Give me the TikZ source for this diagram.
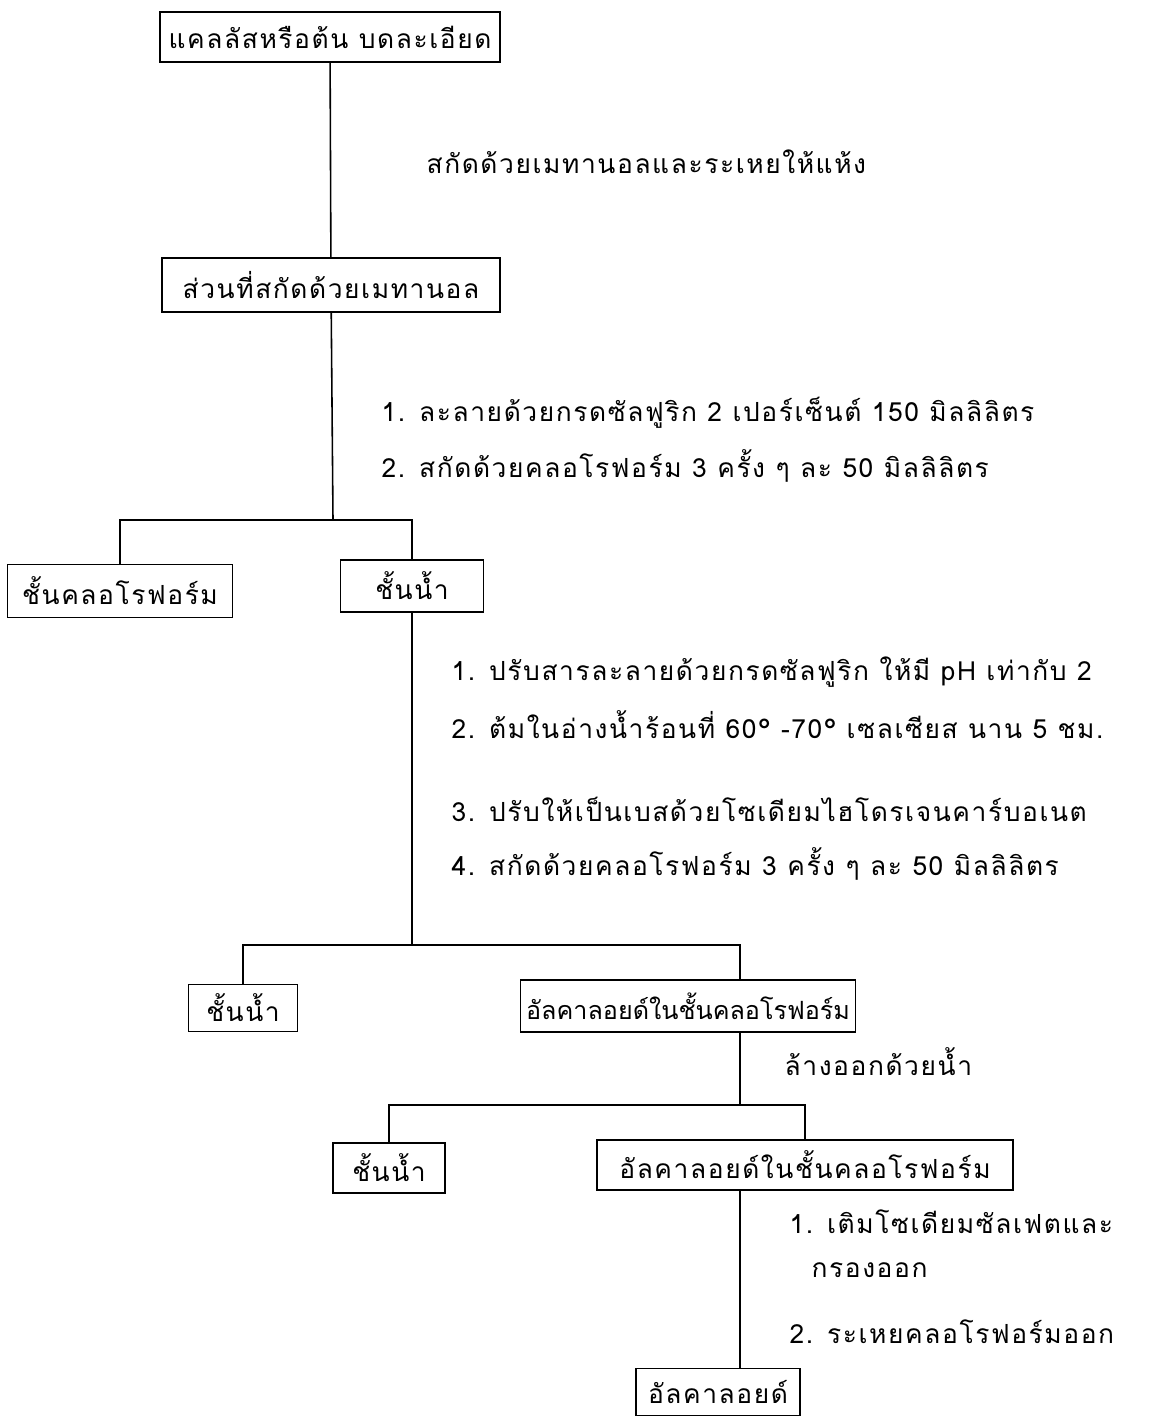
\documentclass[tikz,border=0pt]{standalone}
\usepackage{fontspec}
\newfontfamily\thaifont[Script=Thai,LetterSpace=6]{Loma}
\newfontfamily\thaitight[Script=Thai,LetterSpace=0]{Loma}
\usetikzlibrary{calc}

\begin{document}
\begin{tikzpicture}[%
    x=0.02cm, y=-0.02cm,        % Work in pixels of the scanned page
    line width=0.9pt            % Typewritten lines are fairly heavy
    ]
% -------------------------------------------------
% Box and text styles
\tikzset{
  base/.style={draw, align=center, inner sep=0pt,
    font={\thaifont\fontsize{15}{18}\selectfont}},
  box/.style={base, rectangle},
  tight/.style={font={\thaitight\fontsize{14.3}{17}\selectfont}},
  % coord node style is used for corners of the connecting lines
  coord/.style={coordinate},
  note/.style={anchor=west, font={\thaifont\fontsize{15}{18}\selectfont}},
  link/.style={draw, black}
}
\useasboundingbox (0,0) rectangle (1158,1421);
% -------------------------------------------------
% The boxes, top to bottom
\node [box, minimum width=6.8cm, minimum height=1cm] (b1) at (330,37)
  {แคลลัสหรือต้น บดละเอียด};
\node [box, minimum width=6.76cm, minimum height=1.08cm] (b2) at (331,285)
  {ส่วนที่สกัดด้วยเมทานอล};
\node [box, minimum width=4.5cm, minimum height=1.06cm] (b3) at (120,591)
  {ชั้นคลอโรฟอร์ม};
\node [box, minimum width=2.86cm, minimum height=1.04cm] (b4) at (412,586)
  {ชั้นน้ำ};
\node [box, minimum width=2.18cm, minimum height=0.94cm] (b5) at (243,1008)
  {ชั้นน้ำ};
\node [box, tight, minimum width=6.7cm, minimum height=1.04cm] (b6) at (688,1006)
  {อัลคาลอยด์ในชั้นคลอโรฟอร์ม};
\node [box, minimum width=2.24cm, minimum height=1cm] (b7) at (389,1168)
  {ชั้นน้ำ};
\node [box, minimum width=8.32cm, minimum height=1cm] (b8) at (805,1165)
  {อัลคาลอยด์ในชั้นคลอโรฟอร์ม};
\node [box, minimum width=3.28cm, minimum height=0.94cm] (b9) at (718,1392)
  {อัลคาลอยด์};

% -------------------------------------------------
% The steps written beside the lines
\node [note] (s0) at (420,162) {สกัดด้วยเมทานอลและระเหยให้แห้ง};
\node [note] (s1) at (375,413) {1. ละลายด้วยกรดซัลฟูริก 2 เปอร์เซ็นต์ 150 มิลลิลิตร};
\node [note] (s2) at (375,466) {2. สกัดด้วยคลอโรฟอร์ม 3 ครั้ง ๆ ละ 50 มิลลิลิตร};
\node [note] (s3) at (445,672) {1. ปรับสารละลายด้วยกรดซัลฟูริก ให้มี pH เท่ากับ 2};
\node [note] (s4) at (445,725) {2. ต้มในอ่างน้ำร้อนที่ 60° -70° เซลเซียส นาน 5 ชม.};
\node [note] (s5) at (445,809) {3. ปรับให้เป็นเบสด้วยโซเดียมไฮโดรเจนคาร์บอเนต};
\node [note] (s6) at (445,864) {4. สกัดด้วยคลอโรฟอร์ม 3 ครั้ง ๆ ละ 50 มิลลิลิตร};
\node [note] (s7) at (778,1062) {ล้างออกด้วยน้ำ};
\node [note] (s8) at (783,1222) {1. เติมโซเดียมซัลเฟตและ};
\node [note] (s9) at (805,1270) {กรองออก};
\node [note] (s10) at (783,1332) {2. ระเหยคลอโรฟอร์มออก};

% -------------------------------------------------
% Corners of the branching lines
\node [coord] (j1) at (333,520) {};
\node [coord] (j2) at (412,945) {};
\node [coord] (c1) at (740,945) {};
\node [coord] (c2) at (740,1105) {};
\node [coord] (c3) at (740,1190) {};

% -------------------------------------------------
% The connectors
\draw [link] (b1) -- (b2);
\draw [link] (b2) -- (j1);
\draw [link] (b3) |- (j1) -| (b4);
\draw [link] (b4) -- (j2);
\draw [link] (b5) |- (j2) -- (c1) -- (c1 |- b6.north);
\draw [link] (c1 |- b6.south) -- (c2);
\draw [link] (b7) |- (c2) -| (b8);
\draw [link] (c3 |- b8.south) -- (c3 |- b9.north);
\end{tikzpicture}
\end{document}
